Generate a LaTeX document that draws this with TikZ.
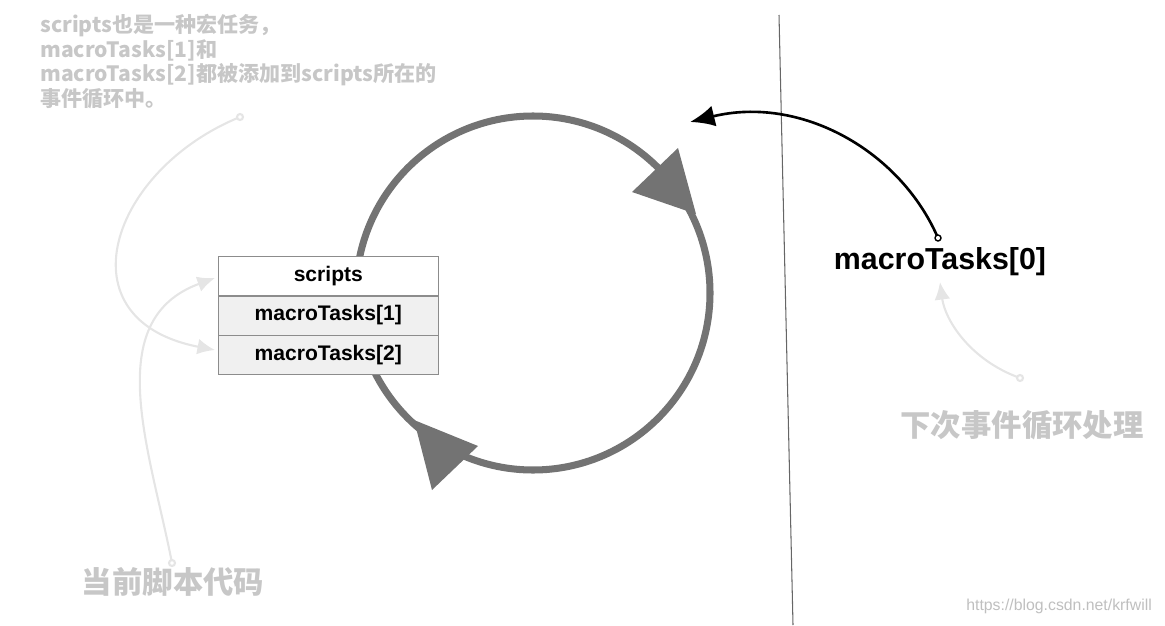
\documentclass[tikz,border=0pt]{standalone}
\usepackage{fontspec}
\setmainfont{Liberation Sans}
\newfontfamily\cjk{Noto Sans CJK SC}
\usetikzlibrary{arrows.meta}
\begin{document}
\begin{tikzpicture}[x=0.02cm,y=-0.02cm,
  faint/.style={draw=black!10,line width=1.2pt},
  faintx/.style={text=black!22,font=\cjk\bfseries},
  cell/.style={draw=black!45,minimum width=4.4cm,minimum height=0.78cm,font=\bfseries\large,inner sep=0pt}]
\useasboundingbox (0,0) rectangle (1165,625);
% cycle
\draw[black!55,line width=4pt] (533,293) circle (177);
\fill[black!55] (632,192) -- (678,148) -- (696,214) -- cycle;
\fill[black!55] (414,420) -- (432,490) -- (478,446) -- cycle;
% table
\node[cell,fill=white,anchor=north west] (s) at (218,256) {scripts};
\node[cell,fill=black!6,anchor=north] (m1) at (s.south) {macroTasks[1]};
\node[cell,fill=black!6,anchor=north] (m2) at (m1.south) {macroTasks[2]};
% divider
\coordinate (d1) at (779,15); \coordinate (d2) at (793,625);
\draw[black!60,line width=0.6pt] (d1) -- (d2);
% macroTasks[0]
\node[font=\bfseries\LARGE] (m0) at (940,262) {macroTasks[0]};
\coordinate (p0) at (938,238);
\coordinate (t0) at (690,122);
\draw[line width=1.5pt,-{Latex[length=14pt,width=12pt]}] (p0) .. controls (900,150) and (800,95) .. (t0);
\draw[fill=white,line width=0.8pt] (p0) circle (3);
% faint annotations
\node[faintx,anchor=north west,align=left,font=\cjk\bfseries\large,inner sep=0pt] (ann) at (40,14)
 {scripts也是一种宏任务，\\macroTasks[1]和\\macroTasks[2]都被添加到scripts所在的\\事件循环中。};
\coordinate (a1) at (240,117);
\draw[faint,-{Latex[length=10pt,width=9pt]}] (a1) .. controls (110,170) and (60,320) .. (215,350);
\draw[faint,fill=white] (a1) circle (3);
\node[faintx,font=\cjk\bfseries\LARGE] (cur) at (173,582) {当前脚本代码};
\coordinate (a2) at (172,563);
\draw[faint,-{Latex[length=10pt,width=9pt]}] (a2) .. controls (150,450) and (100,320) .. (215,278);
\draw[faint,fill=white] (a2) circle (3);
\node[faintx,font=\cjk\bfseries\LARGE] (nxt) at (1022,425) {下次事件循环处理};
\coordinate (a3) at (1020,378);
\draw[faint,-{Latex[length=10pt,width=9pt]}] (a3) .. controls (970,360) and (945,320) .. (940,282);
\draw[faint,fill=white] (a3) circle (3);
\node[text=black!25,font=\small,anchor=east] (wm) at (1158,606) {https://blog.csdn.net/krfwill};
\end{tikzpicture}
\end{document}
